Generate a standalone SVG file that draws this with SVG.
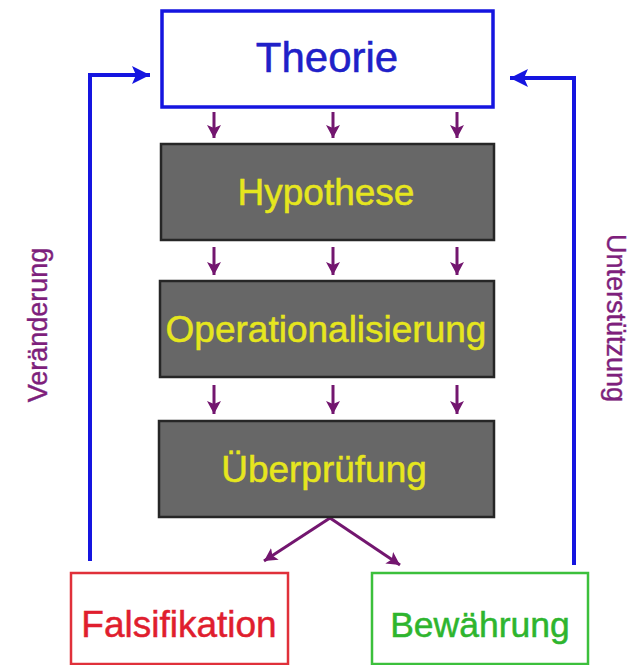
<svg xmlns="http://www.w3.org/2000/svg" width="639" height="665" viewBox="0 0 639 665">
<style>
.lbl{font-family:"Liberation Sans",Arial,sans-serif;text-anchor:middle}
.gray{fill:#676767;stroke:#262626;stroke-width:2.5}
.ytxt{fill:#e6e61e;font-size:37px;stroke:#e6e61e;stroke-width:0.5}
.pa{stroke:#73166f;stroke-width:3;fill:none}
.blue{stroke:#1515e0;stroke-width:4;fill:none}
.vlab{fill:#7e1f7c;font-size:27px;stroke:#7e1f7c;stroke-width:0.4}
</style>
<defs>
<marker id="ph" markerUnits="userSpaceOnUse" markerWidth="18" markerHeight="18" refX="13" refY="8" orient="auto">
<path d="M0,1 L13,8 L0,15 L3,8 Z" fill="#73166f"/>
</marker>
<marker id="bh" markerUnits="userSpaceOnUse" markerWidth="22" markerHeight="22" refX="18" refY="10" orient="auto">
<path d="M0,1 L18,10 L0,19 L4,10 Z" fill="#1515e0"/>
</marker>
</defs>
<g id="connectors">
<path class="blue" d="M90,561 L90,75 L150,75" marker-end="url(#bh)"/>
<path class="blue" d="M574,565 L574,78 L510,78" marker-end="url(#bh)"/>
<line class="pa" x1="214" y1="112" x2="214" y2="138" marker-end="url(#ph)"/>
<line class="pa" x1="333" y1="112" x2="333" y2="138" marker-end="url(#ph)"/>
<line class="pa" x1="457" y1="112" x2="457" y2="138" marker-end="url(#ph)"/>
<line class="pa" x1="214" y1="247" x2="214" y2="275" marker-end="url(#ph)"/>
<line class="pa" x1="333" y1="247" x2="333" y2="275" marker-end="url(#ph)"/>
<line class="pa" x1="457" y1="247" x2="457" y2="275" marker-end="url(#ph)"/>
<line class="pa" x1="214" y1="385" x2="214" y2="414" marker-end="url(#ph)"/>
<line class="pa" x1="333" y1="385" x2="333" y2="414" marker-end="url(#ph)"/>
<line class="pa" x1="457" y1="385" x2="457" y2="414" marker-end="url(#ph)"/>
<line class="pa" x1="330" y1="518" x2="264" y2="561" marker-end="url(#ph)"/>
<line class="pa" x1="330" y1="518" x2="400" y2="565" marker-end="url(#ph)"/>
</g>
<g id="theorie">
<rect x="162" y="11" width="331" height="96" fill="#fff" stroke="#1515e0" stroke-width="3.5"/>
<text class="lbl" x="327" y="72" font-size="42" fill="#2020c8" stroke="#2020c8" stroke-width="0.5">Theorie</text>
</g>
<g id="hypothese">
<rect class="gray" x="161" y="144" width="333" height="96"/>
<text class="lbl ytxt" x="326" y="205">Hypothese</text>
</g>
<g id="operationalisierung">
<rect class="gray" x="160" y="281" width="334" height="96"/>
<text class="lbl ytxt" x="326" y="342">Operationalisierung</text>
</g>
<g id="ueberpruefung">
<rect class="gray" x="159" y="421" width="335" height="96"/>
<text class="lbl ytxt" x="324" y="482">Überprüfung</text>
</g>
<g id="falsifikation">
<rect x="71" y="573" width="217" height="91" fill="#fff" stroke="#e0303a" stroke-width="2.5"/>
<text class="lbl" x="179" y="637" font-size="37" fill="#e01e2e" stroke="#e01e2e" stroke-width="0.5">Falsifikation</text>
</g>
<g id="bewaehrung">
<rect x="372" y="573" width="216" height="91" fill="#fff" stroke="#3cc03c" stroke-width="2.5"/>
<text class="lbl" x="480" y="637" font-size="35.5" fill="#2eb52e" stroke="#2eb52e" stroke-width="0.5">Bewährung</text>
</g>
<g id="veraenderung">
<text class="lbl vlab" transform="translate(47,325) rotate(-90)">Veränderung</text>
</g>
<g id="unterstuetzung">
<text class="lbl vlab" transform="translate(607,318) rotate(90)">Unterstützung</text>
</g>
</svg>
